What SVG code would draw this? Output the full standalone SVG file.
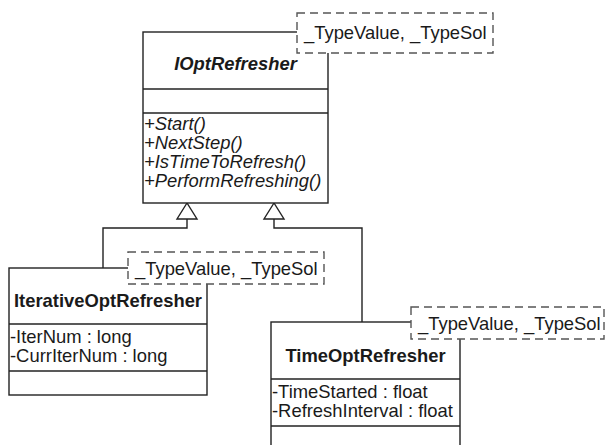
<svg xmlns="http://www.w3.org/2000/svg" width="610" height="445" viewBox="0 0 610 445">
  <style>
    .box { fill: #ffffff; stroke: #222222; stroke-width: 1.4; }
    .sep { stroke: #222222; stroke-width: 1.4; }
    .tpl { fill: #ffffff; stroke: #555555; stroke-width: 1.4; stroke-dasharray: 8 5; }
    .wire { fill: none; stroke: #222222; stroke-width: 1.4; }
    .head { fill: #ffffff; stroke: #222222; stroke-width: 1.4; }
    text { font-family: "Liberation Sans", Arial, sans-serif; font-size: 18.4px; fill: #1a1a1a; }
    .name { font-weight: bold; text-anchor: middle; }
    .abstract { font-style: italic; }
  </style>
  <rect width="610" height="445" fill="#ffffff"/>

  <!-- generalization connectors -->
  <g id="connectors">
    <polyline class="wire" points="187,219 187,228 103,228 103,268"/>
    <polygon class="head" points="187,203 177,219 197,219"/>
    <polyline class="wire" points="274,219 274,228 362,228 362,322"/>
    <polygon class="head" points="274,203 264,219 284,219"/>
  </g>

  <!-- abstract base class -->
  <g id="IOptRefresher">
    <rect class="box" x="143" y="32" width="185" height="171"/>
    <line class="sep" x1="143" y1="89" x2="328" y2="89"/>
    <line class="sep" x1="143" y1="113" x2="328" y2="113"/>
    <text class="name abstract" x="235.5" y="70">IOptRefresher</text>
    <text class="abstract" x="144" y="130">+Start()</text>
    <text class="abstract" x="144" y="149">+NextStep()</text>
    <text class="abstract" x="144" y="168">+IsTimeToRefresh()</text>
    <text class="abstract" x="144" y="187">+PerformRefreshing()</text>
    <rect class="tpl" x="297" y="13" width="196" height="40"/>
    <text x="304" y="39">_TypeValue, _TypeSol</text>
  </g>

  <!-- iteration-count based refresher -->
  <g id="IterativeOptRefresher">
    <rect class="box" x="9" y="268" width="198" height="127"/>
    <line class="sep" x1="9" y1="324" x2="207" y2="324"/>
    <line class="sep" x1="9" y1="371" x2="207" y2="371"/>
    <text class="name" x="108" y="307">IterativeOptRefresher</text>
    <text x="10" y="343">-IterNum : long</text>
    <text x="10" y="362">-CurrIterNum : long</text>
    <rect class="tpl" x="128" y="252" width="196" height="32"/>
    <text x="135" y="275">_TypeValue, _TypeSol</text>
  </g>

  <!-- time based refresher -->
  <g id="TimeOptRefresher">
    <rect class="box" x="271" y="322" width="189" height="140"/>
    <line class="sep" x1="271" y1="379" x2="460" y2="379"/>
    <line class="sep" x1="271" y1="426" x2="460" y2="426"/>
    <text class="name" x="365.5" y="362">TimeOptRefresher</text>
    <text x="272" y="398">-TimeStarted : float</text>
    <text x="272" y="417">-RefreshInterval : float</text>
    <rect class="tpl" x="411" y="307" width="193" height="32"/>
    <text x="418" y="330">_TypeValue, _TypeSol</text>
  </g>
</svg>
